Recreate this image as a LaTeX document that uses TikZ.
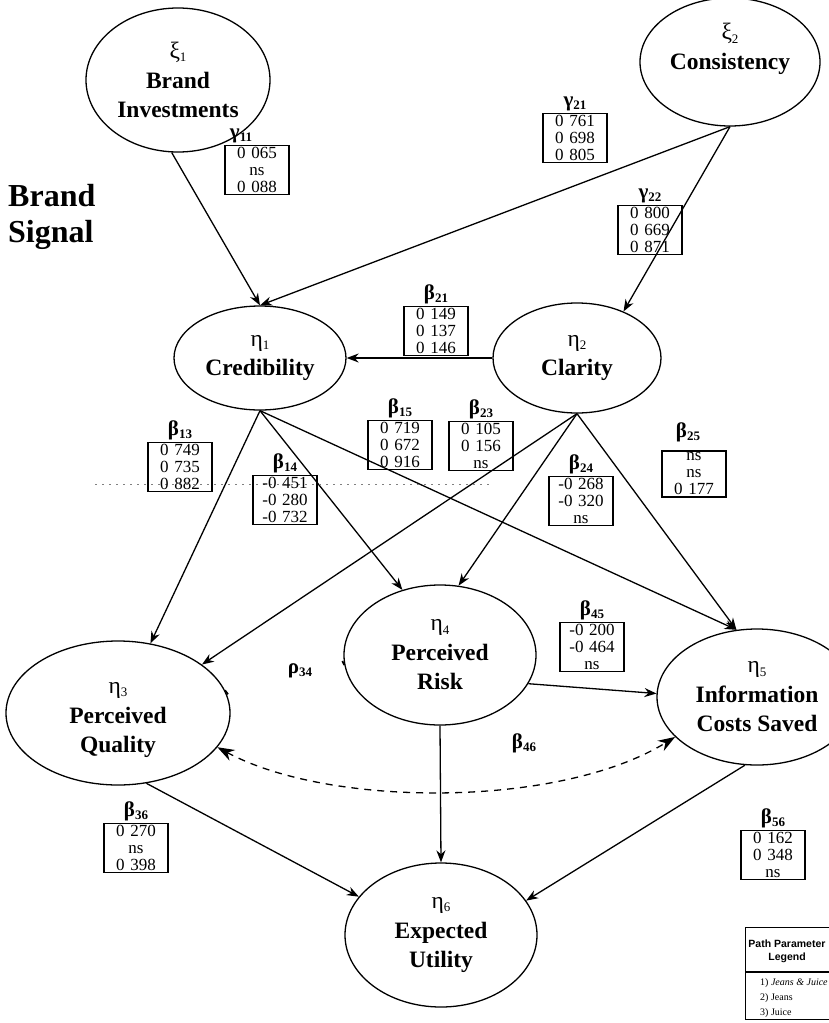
\documentclass[tikz,border=0pt]{standalone}
\usepackage{fontspec}
\setmainfont{Liberation Serif}
\newfontfamily\legendsans{Liberation Sans}
\usetikzlibrary{shapes.geometric,arrows.meta}

% subscripts used for the Greek symbols
\newcommand\lsub[1]{\raisebox{-0.3ex}{\fontsize{13}{13}\selectfont #1}}
\newcommand\gsym[2]{{\mdseries #1\lsub{#2}}}
\newcommand\psym[2]{{\bfseries #1\lsub{#2}}}

\tikzset{
  latent/.style={ellipse, draw, line width=1.3pt, inner sep=0pt, align=center,
    font=\fontsize{23.5}{29.5}\selectfont\bfseries},
  ltext/.style={inner sep=0pt, align=center,
    font=\fontsize{23.5}{29.5}\selectfont\bfseries},
  coef/.style={draw, line width=1.4pt, align=center, inner sep=2pt,
    text width=60pt, font=\fontsize{17}{17}\selectfont},
  plab/.style={inner sep=1pt, font=\fontsize{21}{21}\selectfont\bfseries},
  path/.style={line width=1.3pt, -{Stealth[length=12pt,width=9pt]}},
  corr/.style={line width=1.3pt, dash pattern=on 7pt off 6pt,
    {Stealth[length=17pt,width=12pt]}-{Stealth[length=17pt,width=12pt]}},
}

\begin{document}
\begin{tikzpicture}[x=1pt,y=-1pt]
\useasboundingbox (0,0) rectangle (829,1023);

% latent variables
\node[latent, minimum width=184pt, minimum height=144pt] (xi1) at (178,80)
  {\gsym{ξ}{1}\\Brand\\Investments};
\node[latent, minimum width=180pt, minimum height=128pt] (xi2) at (730,62) {};
\node[ltext] (xi2t) at (730,49) {\gsym{ξ}{2}\\Consistency};
\node[latent, minimum width=172pt, minimum height=104pt] (e1) at (260,358)
  {\gsym{η}{1}\\Credibility};
\node[latent, minimum width=168pt, minimum height=110pt] (e2) at (577,358)
  {\gsym{η}{2}\\Clarity};
\node[latent, minimum width=224pt, minimum height=144pt] (e3) at (118,713) {};
\node[ltext] (e3t) at (118,720) {\gsym{η}{3}\\Perceived\\Quality};
\node[latent, minimum width=192pt, minimum height=140pt] (e4) at (440,655)
  {\gsym{η}{4}\\Perceived\\Risk};
\node[latent, minimum width=200pt, minimum height=136pt] (e5) at (757,697)
  {\gsym{η}{5}\\Information\\Costs Saved};
\node[latent, minimum width=192pt, minimum height=144pt] (e6) at (441,935)
  {\gsym{η}{6}\\Expected\\Utility};

% side heading
\node[anchor=north west, align=left, inner sep=0pt,
  font=\fontsize{32}{36}\selectfont\bfseries] (sig) at (8,184) {Brand\\Signal};

% structural paths
\draw[path] (xi1.-95) -- (e1.north);
\draw[path] (xi2.south) -- (e1.north);
\draw[path] (xi2.south) -- (e2.45);
\draw[path] (e2.west) -- (e1.east);
\draw[path] (e1.south) -- (e3.65);
\draw[path] (e1.south) -- (e4.120);
\draw[path] (e1.south) -- (e5.107);
\draw[path] (e2.south) -- (e3.30);
\draw[path] (e2.south) -- (e4.75);
\draw[path] (e2.south) -- (e5.107);
\draw[path] (e4.-18) -- (e5.178);
\draw[path] (e4.south) -- (e6.north);
\draw[path] (e3.-68) -- (e6.155);
\draw[path] (e5.-100) -- (e6.22);
\draw[corr] (e3.-19) .. controls (330,808) and (560,808) .. (e5.206);

% residual marks of the rho_34 link
\draw[line width=1.8pt] (e3.12) -- ++(3,4);
\draw[line width=1.8pt] (e4.186) -- ++(-2,-4);

% faint fold line
\draw[gray, line width=0.8pt, dash pattern=on 2pt off 5pt] (95,484) -- (490,484);

% path coefficients
\node[coef] (g11) at (257,170) {0 065\\ns\\0 088};
\node[plab, anchor=south] (g11l) at ([xshift=-16pt]g11.north) {\psym{γ}{11}};
\node[coef] (g21) at (575,138) {0 761\\0 698\\0 805};
\node[plab, anchor=south] (g21l) at (g21.north) {\psym{γ}{21}};
\node[coef] (g22) at (650,230) {0 800\\0 669\\0 871};
\node[plab, anchor=south] (g22l) at (g22.north) {\psym{γ}{22}};
\node[coef] (b21) at (436,331) {0 149\\0 137\\0 146};
\node[plab, anchor=south] (b21l) at (b21.north) {\psym{β}{21}};
\node[coef] (b15) at (400,445) {0 719\\0 672\\0 916};
\node[plab, anchor=south] (b15l) at (b15.north) {\psym{β}{15}};
\node[coef] (b23) at (481,446) {0 105\\0 156\\ns};
\node[plab, anchor=south] (b23l) at (b23.north) {\psym{β}{23}};
\node[coef] (b13) at (180,467) {0 749\\0 735\\0 882};
\node[plab, anchor=south] (b13l) at (b13.north) {\psym{β}{13}};
\node[coef] (b14) at (285,500) {-0 451\\-0 280\\-0 732};
\node[plab, anchor=south] (b14l) at (b14.north) {\psym{β}{14}};
\node[coef] (b24) at (581,501) {-0 268\\-0 320\\ns};
\node[plab, anchor=south] (b24l) at (b24.north) {\psym{β}{24}};
\node[coef] (b25) at (694,474) {ns\\ns\\0 177};
\node[plab, anchor=south] (b25l) at ([xshift=-6pt,yshift=7pt]b25.north) {\psym{β}{25}};
\node[coef] (b45) at (592,647) {-0 200\\-0 464\\ns};
\node[plab, anchor=south] (b45l) at (b45.north) {\psym{β}{45}};
\node[coef] (b36) at (136,848) {0 270\\ns\\0 398};
\node[plab, anchor=south] (b36l) at (b36.north) {\psym{β}{36}};
\node[coef] (b56) at (773,855) {0 162\\0 348\\ns};
\node[plab, anchor=south] (b56l) at (b56.north) {\psym{β}{56}};
\node[plab] (b46l) at (524,743) {\psym{β}{46}};
\node[plab] (r34l) at (300,671) {\psym{ρ}{34}};

% legend
\node[draw, line width=1.3pt, minimum width=86pt, minimum height=92pt,
  anchor=north west, inner sep=0pt] (leg) at (745,927) {};
\node[align=center, inner sep=0pt, font=\legendsans\fontsize{10.5}{13}\selectfont\bfseries]
  (legh) at (787,951) {Path Parameter\\Legend};
\draw[line width=1.1pt] (leg.west |- 0,972) coordinate (lsplit) -- (leg.east |- 0,972);
\node[anchor=north west, align=left, inner sep=0pt, font=\fontsize{10}{15}\selectfont]
  (legr) at (760,978) {1) \textit{Jeans \& Juice}\\2) Jeans\\3) Juice};
\end{tikzpicture}
\end{document}
